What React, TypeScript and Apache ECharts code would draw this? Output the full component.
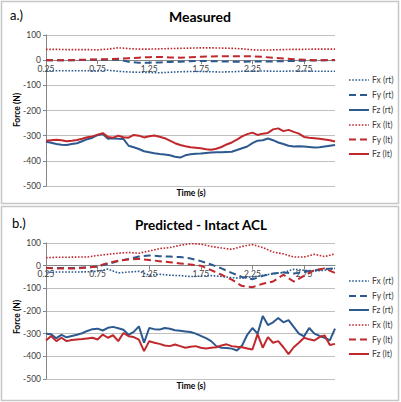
import React, { useEffect, useRef } from "react";
import * as echarts from "echarts";

const timesCoarse = [0.25, 0.35, 0.45, 0.55, 0.65, 0.75, 0.85, 0.95, 1.05, 1.15, 1.25, 1.35, 1.45, 1.55, 1.65, 1.75, 1.85, 1.95, 2.05, 2.15, 2.25, 2.35, 2.45, 2.55, 2.65, 2.75, 2.85, 2.95, 3.05];
const timesFine = [0.25, 0.3, 0.35, 0.4, 0.45, 0.5, 0.55, 0.6, 0.65, 0.7, 0.75, 0.8, 0.85, 0.9, 0.95, 1.0, 1.05, 1.1, 1.15, 1.2, 1.25, 1.3, 1.35, 1.4, 1.45, 1.5, 1.55, 1.6, 1.65, 1.7, 1.75, 1.8, 1.85, 1.9, 1.95, 2.0, 2.05, 2.1, 2.15, 2.2, 2.25, 2.3, 2.35, 2.4, 2.45, 2.5, 2.55, 2.6, 2.65, 2.7, 2.75, 2.8, 2.85, 2.9, 2.95, 3.0, 3.05];
const tickLabels = [0.25, 0.75, 1.25, 1.75, 2.25, 2.75];
const seriesNames = ["Fx (rt)", "Fy (rt)", "Fz (rt)", "Fx (lt)", "Fy (lt)", "Fz (lt)"];

// a.) Measured
const measFxRt = [-42, -42, -42, -42, -42, -42, -40, -44, -47, -48, -49, -50, -48, -46, -45, -45, -46, -47, -46, -44, -43, -43, -44, -44, -43, -43, -44, -44, -44];
const measFyRt = [0, 0, 0, 0, 1, 2, 2, 2, -6, -10, -10, -9, -7, -6, -4, -3, -4, -5, -6, -6, -5, -5, -5, -4, -3, -2, -1, 0, 0];
const measFzRt = [-324, -328, -333, -336, -337, -333, -330, -322, -314, -308, -298, -293, -312, -310, -312, -313, -340, -346, -353, -362, -366, -370, -373, -375, -378, -384, -387, -378, -374, -372, -371, -369, -367, -366, -366, -365, -364, -357, -350, -343, -330, -320, -318, -311, -318, -327, -333, -340, -343, -342, -343, -345, -347, -346, -343, -340, -337];
const measFxLt = [43, 43, 42, 42, 42, 41, 44, 49, 46, 44, 44, 45, 46, 47, 48, 49, 49, 48, 47, 45, 41, 40, 41, 42, 43, 43, 44, 44, 44];
const measFyLt = [0, 0, 0, 1, 2, 3, 4, 6, 8, 10, 12, 13, 11, 10, 12, 14, 15, 16, 16, 16, 15, 13, 10, 7, 4, 2, 0, 0, 1];
const measFzLt = [-320, -318, -316, -318, -322, -320, -317, -312, -306, -303, -296, -290, -305, -308, -300, -306, -308, -297, -300, -307, -302, -299, -304, -310, -320, -330, -337, -342, -346, -348, -350, -354, -356, -352, -345, -335, -327, -316, -303, -294, -288, -297, -292, -289, -275, -271, -282, -277, -285, -292, -305, -308, -310, -312, -315, -318, -323];

// b.) Predicted - Intact ACL
const predFxRt = [-30, -28, -28, -28, -27, -25, -15, -32, -28, -25, -42, -38, -42, -44, -48, -46, -44, -48, -53, -55, -50, -42, -36, -30, -16, -20, -24, -20, -12];
const predFyRt = [-10, -10, -10, -10, -8, -3, 8, 20, 30, 40, 45, 42, 40, 38, 32, 20, 5, -12, -32, -50, -60, -45, -35, -30, -35, -28, -20, -15, -12];
const predFzRt = [-300, -303, -320, -305, -316, -310, -305, -298, -288, -280, -278, -286, -274, -270, -276, -283, -305, -292, -268, -340, -275, -280, -282, -275, -278, -285, -287, -290, -293, -300, -310, -320, -333, -355, -362, -363, -366, -374, -352, -305, -275, -300, -222, -262, -250, -231, -250, -240, -270, -300, -312, -275, -300, -310, -318, -330, -278];
const predFxLt = [35, 37, 37, 38, 38, 45, 50, 55, 58, 55, 65, 75, 80, 90, 97, 95, 85, 78, 72, 85, 93, 80, 60, 52, 38, 38, 50, 40, 52];
const predFyLt = [-10, -12, -12, -12, -8, -3, 12, 22, 27, 30, 25, 20, 15, 10, 5, 0, -20, -40, -62, -90, -95, -80, -70, -40, -70, -45, -20, -12, -32];
const predFzLt = [-330, -310, -333, -318, -333, -328, -326, -324, -321, -318, -326, -304, -318, -307, -333, -297, -311, -315, -326, -377, -333, -340, -345, -352, -355, -348, -355, -362, -358, -355, -362, -365, -362, -360, -352, -347, -355, -358, -360, -365, -370, -302, -362, -315, -340, -333, -360, -390, -360, -340, -318, -325, -330, -315, -308, -350, -345];

const BLUE = "#2D5A8E";
const RED = "#C0282D";
const FONT = "Lato";
const TXT = "#404040";
const DOT = [1.6, 1.6];
const DASH = [7, 4];
const STYLES = [
  { color: BLUE, dash: DOT, width: 1.6 },
  { color: BLUE, dash: DASH, width: 2 },
  { color: BLUE, dash: null, width: 2 },
  { color: RED, dash: DOT, width: 1.6 },
  { color: RED, dash: DASH, width: 2 },
  { color: RED, dash: null, width: 2 },
];

const GRIDS = [
  { left: 46, top: 35, width: 289, height: 151 },
  { left: 46, top: 243, width: 289, height: 136 },
];
const Y_MIN = -500;
const Y_MAX = 100;

function pairs(times: number[], vals: number[]) {
  return times.map((t, i) => [t, vals[i]]);
}

function line(k: number, times: number[], vals: number[], idx: number) {
  const s = STYLES[k];
  return {
    type: "line",
    name: seriesNames[k],
    xAxisIndex: idx,
    yAxisIndex: idx,
    data: pairs(times, vals),
    showSymbol: false,
    symbol: "none",
    lineStyle: { color: s.color, width: s.width, type: s.dash ?? "solid", cap: "butt" },
    itemStyle: { color: s.color },
    emphasis: { disabled: true },
  };
}

function xAxis(idx: number) {
  const g = GRIDS[idx];
  // place the category line at y = 0 (offset from the bottom edge of the grid)
  const zeroOffset = -(g.height * (0 - Y_MIN)) / (Y_MAX - Y_MIN);
  return {
    type: "value",
    gridIndex: idx,
    min: 0.25,
    max: 3.05,
    offset: zeroOffset,
    axisLine: { onZero: false, lineStyle: { color: "#868686", width: 1 } },
    axisTick: { show: true, length: 4, customValues: tickLabels, lineStyle: { color: "#868686" } },
    axisLabel: {
      customValues: tickLabels,
      formatter: (v: number) => v.toFixed(2),
      fontSize: 8.5,
      fontFamily: FONT,
      color: TXT,
      margin: 4,
    },
    splitLine: { show: false },
  };
}

function yAxis(idx: number) {
  return {
    type: "value",
    gridIndex: idx,
    min: Y_MIN,
    max: Y_MAX,
    interval: 100,
    axisLine: { show: true, onZero: false, lineStyle: { color: "#868686", width: 1 } },
    axisTick: { show: true, length: 3, lineStyle: { color: "#868686" } },
    axisLabel: { fontSize: 8.5, fontFamily: FONT, color: TXT, margin: 5 },
    splitLine: { show: true, lineStyle: { color: "#bfbfbf", width: 1 } },
  };
}

function legendItems(ys: number[]) {
  const out: any[] = [];
  seriesNames.forEach((name, k) => {
    const s = STYLES[k];
    out.push({
      type: "line",
      silent: true,
      shape: { x1: 349, y1: ys[k], x2: 369, y2: ys[k] },
      style: { stroke: s.color, lineWidth: s.width, lineDash: s.dash ?? null, lineCap: "butt" },
    });
    out.push({
      type: "text",
      silent: true,
      x: 372,
      y: ys[k],
      style: { text: name, fontSize: 8.5, fontFamily: FONT, fill: TXT, verticalAlign: "middle" },
    });
  });
  return out;
}

const legendTopY = [80, 95, 110, 125, 139.5, 154];
const legendBottomY = [281, 296, 310, 325, 339.5, 354];

export default function App() {
  const ref = useRef<HTMLDivElement>(null);
  useEffect(() => {
    document.body.style.margin = "0";
    const chart = echarts.init(ref.current!, null, { renderer: "svg" });
    const option: any = {
      animation: false,
      backgroundColor: "#ffffff",
      grid: GRIDS,
      xAxis: [xAxis(0), xAxis(1)],
      yAxis: [yAxis(0), yAxis(1)],
      series: [
        line(0, timesCoarse, measFxRt, 0),
        line(1, timesCoarse, measFyRt, 0),
        line(2, timesFine, measFzRt, 0),
        line(3, timesCoarse, measFxLt, 0),
        line(4, timesCoarse, measFyLt, 0),
        line(5, timesFine, measFzLt, 0),
        line(0, timesCoarse, predFxRt, 1),
        line(1, timesCoarse, predFyRt, 1),
        line(2, timesFine, predFzRt, 1),
        line(3, timesCoarse, predFxLt, 1),
        line(4, timesCoarse, predFyLt, 1),
        line(5, timesFine, predFzLt, 1),
      ],
      graphic: [
        { type: "rect", silent: true, shape: { x: 1.5, y: 1.5, width: 397, height: 202 }, style: { fill: "none", stroke: "#c6c6c6", lineWidth: 1.5 } },
        { type: "rect", silent: true, shape: { x: 1.5, y: 206.5, width: 397, height: 194 }, style: { fill: "none", stroke: "#c6c6c6", lineWidth: 1.5 } },
        { type: "text", x: 10, y: 15, style: { text: "a.)", fontSize: 13, fontFamily: FONT, fill: "#000", verticalAlign: "middle" } },
        { type: "text", x: 200, y: 16, style: { text: "Measured", fontSize: 14, fontWeight: "bold", fontFamily: FONT, fill: "#000", align: "center", verticalAlign: "middle" } },
        { type: "text", x: 191, y: 193, style: { text: "Time (s)", fontSize: 8.5, fontWeight: "bold", fontFamily: FONT, fill: "#000", align: "center", verticalAlign: "middle" } },
        { type: "text", x: 17, y: 110, rotation: Math.PI / 2, style: { text: "Force (N)", fontSize: 8.5, fontWeight: "bold", fontFamily: FONT, fill: "#000", align: "center", verticalAlign: "middle" } },
        { type: "text", x: 12, y: 223, style: { text: "b.)", fontSize: 13, fontFamily: FONT, fill: "#000", verticalAlign: "middle" } },
        { type: "text", x: 201, y: 225, style: { text: "Predicted - Intact ACL", fontSize: 13.5, fontWeight: "bold", fontFamily: FONT, fill: "#000", align: "center", verticalAlign: "middle" } },
        { type: "text", x: 191, y: 386, style: { text: "Time (s)", fontSize: 8.5, fontWeight: "bold", fontFamily: FONT, fill: "#000", align: "center", verticalAlign: "middle" } },
        { type: "text", x: 17, y: 317, rotation: Math.PI / 2, style: { text: "Force (N)", fontSize: 8.5, fontWeight: "bold", fontFamily: FONT, fill: "#000", align: "center", verticalAlign: "middle" } },
        ...legendItems(legendTopY),
        ...legendItems(legendBottomY),
      ],
    };
    chart.setOption(option);
    return () => chart.dispose();
  }, []);
  return <div ref={ref} style={{ width: 401, height: 402 }} />;
}
